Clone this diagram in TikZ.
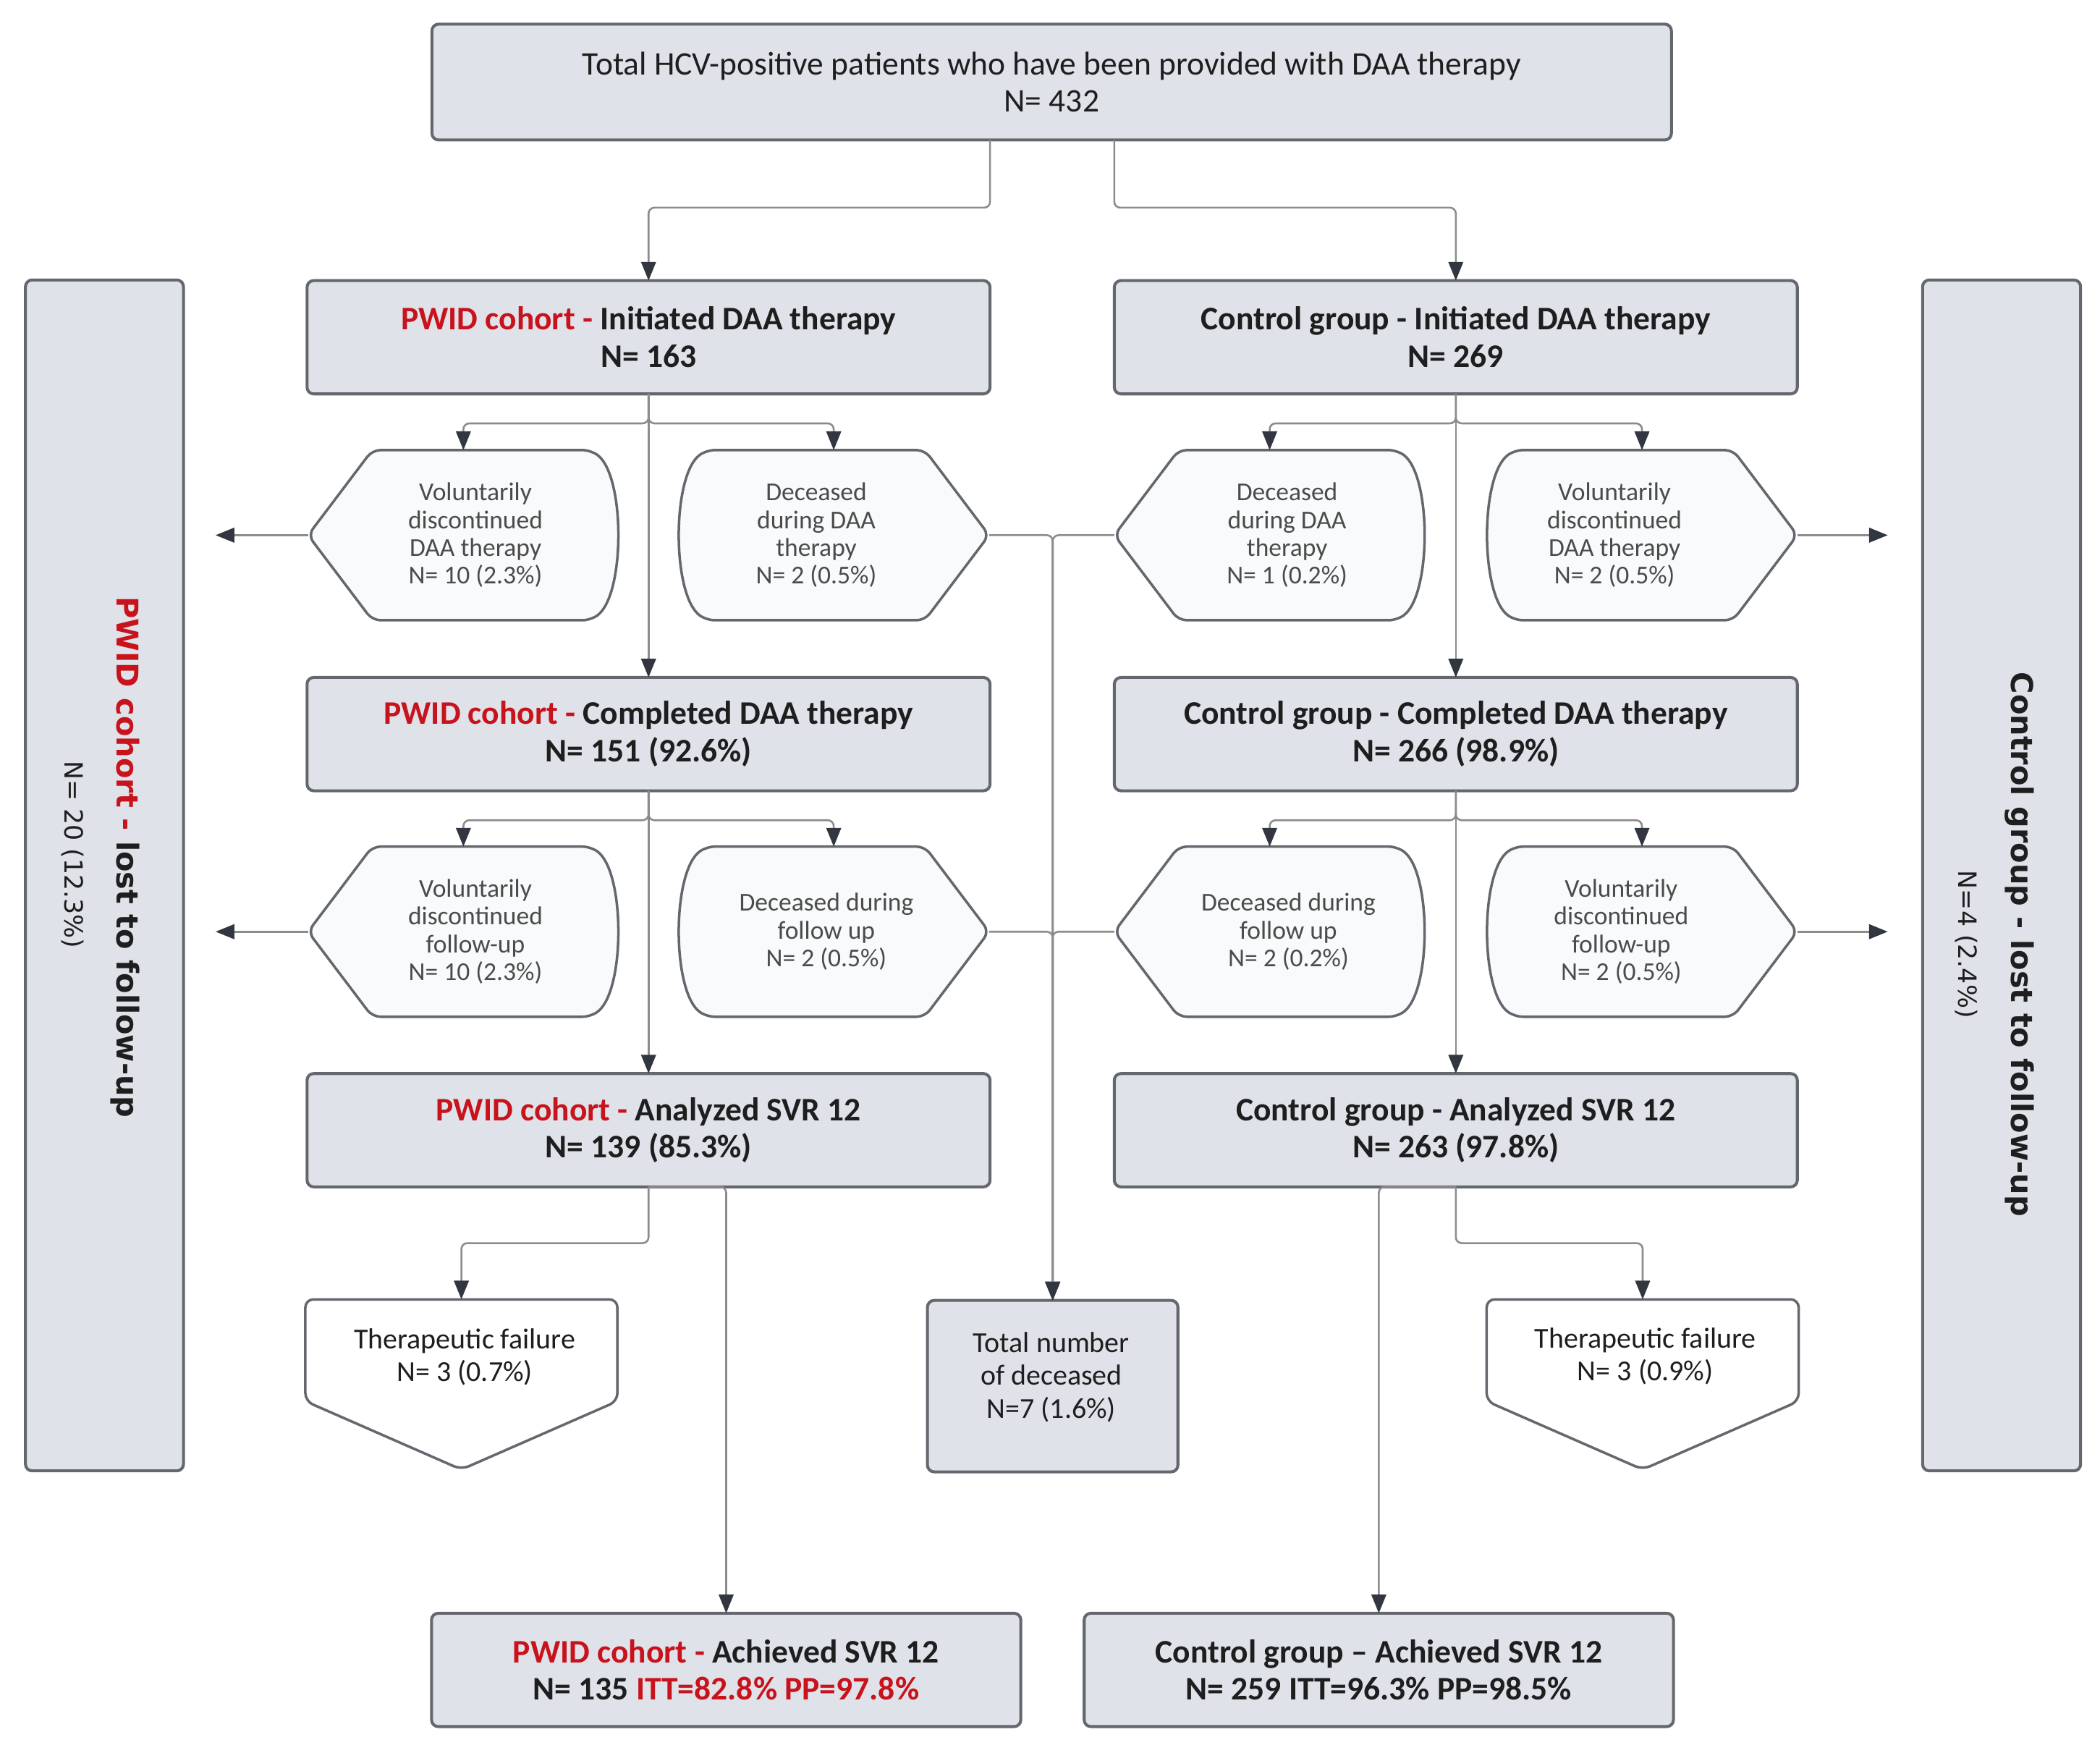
\documentclass[tikz,border=0pt]{standalone}
\usepackage{fontspec}
\setmainfont{Carlito}
\newfontfamily\sidefont{DejaVu Sans}
\usepackage{tikz}
\usetikzlibrary{arrows.meta}
\usepackage{xcolor}

\definecolor{boxfill}{RGB}{223,226,232}
\definecolor{boxline}{RGB}{100,104,110}
\definecolor{hexfill}{RGB}{249,250,251}
\definecolor{connline}{RGB}{140,140,140}
\definecolor{tipcol}{RGB}{50,54,64}
\definecolor{pwidred}{RGB}{200,18,28}
\definecolor{hextxt}{RGB}{75,75,75}
\definecolor{darktxt}{RGB}{30,30,30}

\tikzset{
  box/.style={draw=boxline, line width=1.1pt, fill=boxfill, rounded corners=2.5pt,
    inner sep=0pt, outer sep=0pt, align=center, text=darktxt},
  grpbox/.style={box, minimum width=255pt, minimum height=42.3pt,
    font=\fontsize{12.3}{14}\selectfont\bfseries},
  achbox/.style={box, minimum width=220pt, minimum height=42.3pt,
    font=\fontsize{12.3}{14}\selectfont\bfseries},
  sidebox/.style={box, minimum width=59pt, minimum height=444.5pt},
  sidetxt/.style={inner sep=0pt, rotate=-90, text=darktxt,
    font=\sidefont\fontsize{11.2}{13}\selectfont\bfseries},
  sidesub/.style={inner sep=0pt, rotate=-90, text=darktxt,
    font=\sidefont\fontsize{9.4}{11}\selectfont},
  hexline/.style={draw=boxline, line width=0.95pt, fill=hexfill, rounded corners=3pt},
  hexnode/.style={inner sep=0pt, outer sep=0pt, minimum width=116pt, minimum height=63.5pt},
  hextext/.style={inner sep=0pt, align=center, text=hextxt,
    font=\fontsize{9.6}{10.35}\selectfont},
  failline/.style={draw=boxline, line width=0.95pt, fill=white, rounded corners=3pt},
  smalltext/.style={inner sep=0pt, align=center, text=darktxt,
    font=\fontsize{10.8}{12.25}\selectfont},
  conn/.style={draw=connline, line width=0.7pt, rounded corners=2.2pt},
  arr/.style={conn, -{Triangle[length=7pt,width=5.5pt,color=tipcol]}}
}

% point on the left, round side on the right
\newcommand{\hexleft}[5]{%
  \draw[hexline] (#2-116,#3) -- (#2-68,#3-63.5) -- (#2+95,#3-63.5)
    .. controls (#2+121,#3-45) and (#2+121,#3+45) .. (#2+95,#3+63.5)
    -- (#2-68,#3+63.5) -- cycle;
  \node[hexnode] (#1) at (#2,#3) {};
  \node[hextext] (#1-t) at (#4,#3) {#5};
}
% round side on the left, point on the right
\newcommand{\hexright}[5]{%
  \draw[hexline] (#2+116,#3) -- (#2+68,#3-63.5) -- (#2-95,#3-63.5)
    .. controls (#2-121,#3-45) and (#2-121,#3+45) .. (#2-95,#3+63.5)
    -- (#2+68,#3+63.5) -- cycle;
  \node[hexnode] (#1) at (#2,#3) {};
  \node[hextext] (#1-t) at (#4,#3) {#5};
}

\begin{document}
\begin{tikzpicture}[x=0.5pt, y=-0.5pt]
  \useasboundingbox (0,0) rectangle (1568,1308.6);

  \node[box, minimum width=462.75pt, minimum height=43.25pt,
    font=\fontsize{12.3}{14}\selectfont] (top) at (785.25,61.25)
    {Total HCV-positive patients who have been provided with DAA therapy\\N= 432};

  \node[grpbox] (pwidinit) at (484.25,251.75) {\textcolor{pwidred}{PWID cohort -} Initiated DAA therapy\\N= 163};
  \node[grpbox] (ctrlinit) at (1087,251.75) {Control group - Initiated DAA therapy\\N= 269};
  \node[grpbox] (pwidcomp) at (484.25,548) {\textcolor{pwidred}{PWID cohort -} Completed DAA therapy\\N= 151 (92.6\%)};
  \node[grpbox] (ctrlcomp) at (1087,548) {Control group - Completed DAA therapy\\N= 266 (98.9\%)};
  \node[grpbox] (pwidanal) at (484.25,843.7) {\textcolor{pwidred}{PWID cohort -} Analyzed SVR 12\\N= 139 (85.3\%)};
  \node[grpbox] (ctrlanal) at (1087,843.7) {Control group - Analyzed SVR 12\\N= 263 (97.8\%)};
  \node[achbox] (pwidach) at (542.2,1246.6) {\textcolor{pwidred}{PWID cohort -} Achieved SVR 12\\N= 135 \textcolor{pwidred}{ITT=82.8\% PP=97.8\%}};
  \node[achbox] (ctrlach) at (1029.5,1246.6) {Control group -- Achieved SVR 12\\N= 259 ITT=96.3\% PP=98.5\%};

  \node[sidebox] (lostpwid) at (78,653.5) {};
  \node[sidetxt] (lostpwid-t) at (93.5,640) {\textcolor{pwidred}{PWID cohort -} lost to follow-up};
  \node[sidesub] (lostpwid-n) at (54,638) {N= 20 (12.3\%)};
  \node[sidebox] (lostctrl) at (1494.5,653.5) {};
  \node[sidetxt] (lostctrl-t) at (1508,705) {Control group - lost to follow-up};
  \node[sidesub] (lostctrl-n) at (1468,705) {N=4 (2.4\%)};

  \hexleft{v1}{346}{399.5}{355}{Voluntarily\\discontinued\\DAA therapy\\N= 10 (2.3\%)}
  \hexright{d1}{622.5}{399.5}{609.5}{Deceased\\during DAA\\therapy\\N= 2 (0.5\%)}
  \hexleft{cd1}{948}{399.5}{961}{Deceased\\during DAA\\therapy\\N= 1 (0.2\%)}
  \hexright{cv1}{1226}{399.5}{1205.5}{Voluntarily\\discontinued\\DAA therapy\\N= 2 (0.5\%)}
  \hexleft{v2}{346}{695.5}{355}{Voluntarily\\discontinued\\follow-up\\N= 10 (2.3\%)}
  \hexright{d2}{622.5}{695.5}{617}{Deceased during\\follow up\\N= 2 (0.5\%)}
  \hexleft{cd2}{948}{695.5}{962}{Deceased during\\follow up\\N= 2 (0.2\%)}
  \hexright{cv2}{1226}{695.5}{1210.5}{Voluntarily\\discontinued\\follow-up\\N= 2 (0.5\%)}

  \draw[failline] (228,970) -- (461,970) -- (461,1046) -- (344.5,1097) -- (228,1046) -- cycle;
  \node[hexnode, minimum width=116.5pt] (tf1) at (344.5,1033.5) {};
  \node[smalltext] (tf1-t) at (347,1013) {Therapeutic failure\\N= 3 (0.7\%)};
  \draw[failline] (1110,970) -- (1343,970) -- (1343,1046) -- (1226.5,1097) -- (1110,1046) -- cycle;
  \node[hexnode, minimum width=116.5pt] (tf2) at (1226.5,1033.5) {};
  \node[smalltext] (tf2-t) at (1228.5,1012.5) {Therapeutic failure\\N= 3 (0.9\%)};

  \node[box, minimum width=93.5pt, minimum height=64pt] (total) at (786,1034.75) {};
  \node[smalltext] (total-t) at (785,1028) {Total number\\of deceased\\N=7 (1.6\%)};

  \draw[arr] (top.south -| pwidinit.east) -- ++(0,50.5) -| (pwidinit.north);
  \draw[arr] (top.south -| ctrlinit.west) -- ++(0,50.5) -| (ctrlinit.north);

  \draw[arr] (pwidinit.south) -- (pwidcomp.north);
  \draw[arr] (pwidinit.south) -- ++(0,22) -| (v1.north);
  \draw[arr] (pwidinit.south) -- ++(0,22) -| (d1.north);
  \draw[arr] (ctrlinit.south) -- (ctrlcomp.north);
  \draw[arr] (ctrlinit.south) -- ++(0,22) -| (cd1.north);
  \draw[arr] (ctrlinit.south) -- ++(0,22) -| (cv1.north);

  \draw[arr] (pwidcomp.south) -- (pwidanal.north);
  \draw[arr] (pwidcomp.south) -- ++(0,22) -| (v2.north);
  \draw[arr] (pwidcomp.south) -- ++(0,22) -| (d2.north);
  \draw[arr] (ctrlcomp.south) -- (ctrlanal.north);
  \draw[arr] (ctrlcomp.south) -- ++(0,22) -| (cd2.north);
  \draw[arr] (ctrlcomp.south) -- ++(0,22) -| (cv2.north);

  \draw[arr, shorten >=12pt] (v1.west) -- (v1.west -| lostpwid.east);
  \draw[arr, shorten >=12pt] (v2.west) -- (v2.west -| lostpwid.east);
  \draw[arr, shorten >=13pt] (cv1.east) -- (cv1.east -| lostctrl.west);
  \draw[arr, shorten >=13pt] (cv2.east) -- (cv2.east -| lostctrl.west);

  \draw[arr] (d1.east) -| (total.north);
  \draw[arr] (d2.east) -| (total.north);
  \draw[arr] (cd1.west) -| (total.north);
  \draw[arr] (cd2.west) -| (total.north);

  \draw[arr] (pwidanal.south) -- ++(0,42) -| (tf1.north);
  \draw[arr] (pwidanal.south) -| (pwidach.north);
  \draw[arr] (ctrlanal.south) -- ++(0,42) -| (tf2.north);
  \draw[arr] (ctrlanal.south) -| (ctrlach.north);
\end{tikzpicture}
\end{document}
